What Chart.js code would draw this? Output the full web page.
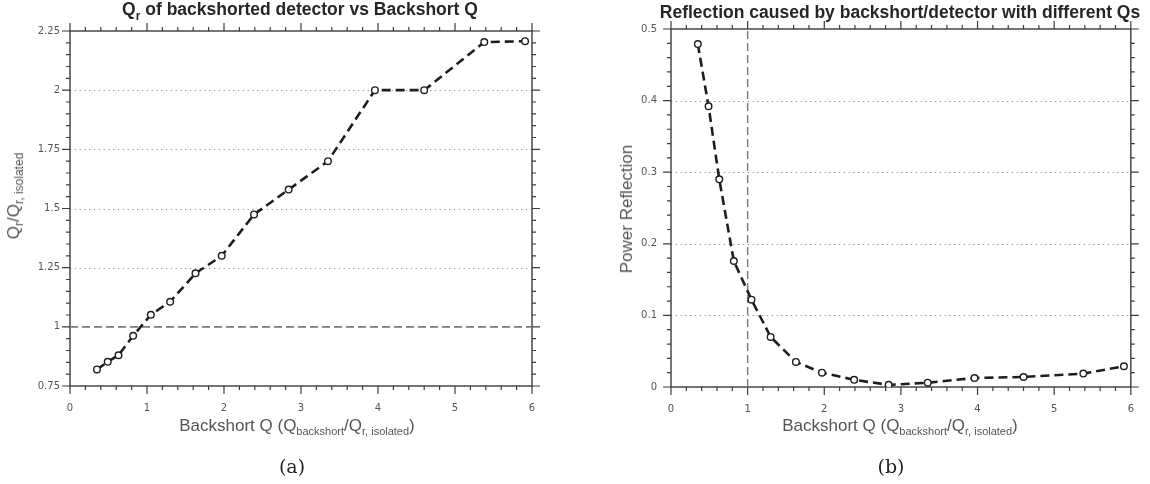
<!DOCTYPE html>
<html lang="en">
<head>
  <meta charset="UTF-8">
  <title>Backshorted detector Q and reflection</title>
  <script src="https://cdn.jsdelivr.net/npm/chart.js"></script>
  <style>
    body {
      margin: 0;
      background: #ffffff;
      width: 1150px;
      height: 484px;
      position: relative;
      overflow: hidden;
      font-family: 'Liberation Sans', Arial, sans-serif;
    }
    canvas { position: absolute; top: 0; }
    #qrChart { left: 0; }
    #reflChart { left: 575px; }

    .lbl {
      position: absolute;
      transform: translate(-50%, -50%);
      white-space: nowrap;
    }
    .title {
      font-weight: bold;
      font-size: 17.5px;
      color: #262626;
    }
    .axis {
      font-size: 17px;
      color: #555;
    }
    .axis sub { font-size: 11px; vertical-align: -4px; }
    .title sub { font-size: 12px; vertical-align: -5px; }
    .vert { transform: translate(-50%, -50%) rotate(-90deg); }
    .vert sub { font-size: 12px; }
    .caption {
      font-family: 'DejaVu Serif', 'Liberation Serif', serif;
      font-size: 19px;
      color: #222;
    }
  </style>
</head>
<body>

<canvas id="qrChart" width="575" height="484"></canvas>
<canvas id="reflChart" width="575" height="484"></canvas>

<!-- titles and axis names -->
<div class="lbl title" style="left:300px; top:11px;">Q<sub>r</sub> of backshorted detector vs Backshort Q</div>
<div class="lbl title" style="left:900px; top:12px;">Reflection caused by backshort/detector with different Qs</div>

<div class="lbl axis vert" style="left:15px; top:196px;">Q<sub>r</sub>/Q<sub>r, isolated</sub></div>
<div class="lbl axis vert" style="left:627px; top:209px;">Power Reflection</div>

<div class="lbl axis" style="left:297px; top:426px;">Backshort Q (Q<sub>backshort</sub>/Q<sub>r, isolated</sub>)</div>
<div class="lbl axis" style="left:900px; top:426px;">Backshort Q (Q<sub>backshort</sub>/Q<sub>r, isolated</sub>)</div>

<div class="lbl caption" style="left:292px; top:466px;">(a)</div>
<div class="lbl caption" style="left:891px; top:466px;">(b)</div>

<script>
  // backshort Q values shared by both panels
  const backshortQ = [0.35, 0.49, 0.63, 0.82, 1.05, 1.30, 1.63, 1.97, 2.39, 2.84, 3.35, 3.96, 4.60, 5.38, 5.91];
  // Qr / Qr,isolated
  const qrRatio = [0.82, 0.852, 0.88, 0.962, 1.051, 1.106, 1.226, 1.30, 1.475, 1.58, 1.70, 2.0, 2.0, 2.203, 2.207];
  // power reflection
  const powerReflection = [0.479, 0.392, 0.29, 0.176, 0.122, 0.070, 0.035, 0.020, 0.010, 0.003, 0.006, 0.0126, 0.014, 0.0187, 0.029];

  const xTicks = [0, 1, 2, 3, 4, 5, 6];
  const qrTicks = [0.75, 1, 1.25, 1.5, 1.75, 2, 2.25];
  const reflTicks = [0, 0.1, 0.2, 0.3, 0.4, 0.5];

  // isolated-detector level (left) and matched backshort Q (right)
  const qrIsolated = 1;
  const qMatched = 1;

  const toPoints = (xs, ys) => xs.map((x, i) => ({ x: x, y: ys[i] }));

  // frame with outward major/minor ticks on all four sides, plus dotted grid
  const frameTicks = {
    id: 'frameTicks',
    beforeDatasetsDraw(chart, args, opts) {
      const { ctx, chartArea: a, scales: { x, y } } = chart;
      ctx.save();

      ctx.strokeStyle = '#8c8c8c';
      ctx.lineWidth = 1;
      ctx.setLineDash([1.2, 3.6]);
      y.ticks.forEach(t => {
        if (t.value <= y.min || t.value >= y.max || t.value === opts.skipGrid) return;
        const py = Math.round(y.getPixelForValue(t.value)) + 0.5;
        ctx.beginPath();
        ctx.moveTo(a.left, py);
        ctx.lineTo(a.right, py);
        ctx.stroke();
      });
      ctx.setLineDash([]);

      ctx.strokeStyle = '#3c3c3c';
      ctx.lineWidth = 1.4;
      ctx.strokeRect(a.left, a.top, a.width, a.height);

      const walk = (scale, minor, major, draw) => {
        const n = Math.round((scale.max - scale.min) / minor);
        for (let i = 0; i <= n; i++) {
          const v = scale.min + i * minor;
          const r = v / major;
          const isMajor = Math.abs(r - Math.round(r)) < 1e-6;
          draw(scale.getPixelForValue(v), isMajor ? 8 : 4);
        }
      };
      ctx.lineWidth = 1.2;
      ctx.beginPath();
      walk(x, opts.xMinor, opts.xMajor, (px, len) => {
        ctx.moveTo(px, a.bottom); ctx.lineTo(px, a.bottom + len);
        ctx.moveTo(px, a.top); ctx.lineTo(px, a.top - len);
      });
      walk(y, opts.yMinor, opts.yMajor, (py, len) => {
        ctx.moveTo(a.left, py); ctx.lineTo(a.left - len, py);
        ctx.moveTo(a.right, py); ctx.lineTo(a.right + len, py);
      });
      ctx.stroke();
      ctx.restore();
    }
  };

  const tickFont = { family: 'DejaVu Sans', size: 10 };

  function axis(min, max, values, pad, fit) {
    return {
      type: 'linear',
      min: min,
      max: max,
      grid: { display: false, drawTicks: false },
      border: { display: false },
      afterBuildTicks: s => { s.ticks = values.map(v => ({ value: v })); },
      afterFit: fit,
      ticks: {
        color: '#555',
        font: tickFont,
        padding: pad,
        autoSkip: false,
        maxRotation: 0,
        callback: v => String(v)
      }
    };
  }

  const dataStyle = {
    showLine: true,
    borderColor: '#1e1e1e',
    borderWidth: 2.6,
    borderDash: [9, 5],
    pointRadius: 3.3,
    pointBorderWidth: 1.4,
    pointBorderColor: '#1e1e1e',
    pointBackgroundColor: '#fff',
    order: 1
  };

  const refStyle = {
    showLine: true,
    borderColor: '#7a7a7a',
    borderWidth: 1.7,
    borderDash: [8, 4],
    pointRadius: 0,
    order: 2
  };

  // === (a) Qr ratio vs backshort Q ===
  new Chart(document.getElementById('qrChart'), {
    type: 'scatter',
    data: {
      datasets: [
        Object.assign({ label: 'Qr ratio', data: toPoints(backshortQ, qrRatio) }, dataStyle),
        Object.assign({
          label: 'isolated',
          data: [{ x: xTicks[0], y: qrIsolated }, { x: xTicks[xTicks.length - 1], y: qrIsolated }]
        }, refStyle)
      ]
    },
    options: {
      responsive: false,
      animation: false,
      layout: { padding: { left: 0, right: 43, top: 31, bottom: 68 } },
      plugins: {
        legend: { display: false },
        tooltip: { enabled: false },
        frameTicks: { xMinor: 0.2, xMajor: 1, yMinor: 0.05, yMajor: 0.25, skipGrid: qrIsolated }
      },
      scales: {
        x: axis(0, 6, xTicks, 16, s => { s.height = 30; }),
        y: axis(0.75, 2.25, qrTicks, 10, s => { s.width = 70; })
      }
    },
    plugins: [frameTicks]
  });

  // === (b) power reflection vs backshort Q ===
  new Chart(document.getElementById('reflChart'), {
    type: 'scatter',
    data: {
      datasets: [
        Object.assign({ label: 'reflection', data: toPoints(backshortQ, powerReflection) }, dataStyle),
        Object.assign({
          label: 'matched',
          data: [{ x: qMatched, y: reflTicks[0] }, { x: qMatched, y: reflTicks[reflTicks.length - 1] }]
        }, refStyle, { borderWidth: 1.4 })
      ]
    },
    options: {
      responsive: false,
      animation: false,
      layout: { padding: { left: 0, right: 17, top: 29, bottom: 67 } },
      plugins: {
        legend: { display: false },
        tooltip: { enabled: false },
        frameTicks: { xMinor: 0.2, xMajor: 1, yMinor: 0.02, yMajor: 0.1 }
      },
      scales: {
        x: axis(0, 6, xTicks, 16, s => { s.height = 30; }),
        y: axis(0, 0.5, reflTicks, 14, s => { s.width = 96; })
      }
    },
    plugins: [frameTicks]
  });
</script>

</body>
</html>
